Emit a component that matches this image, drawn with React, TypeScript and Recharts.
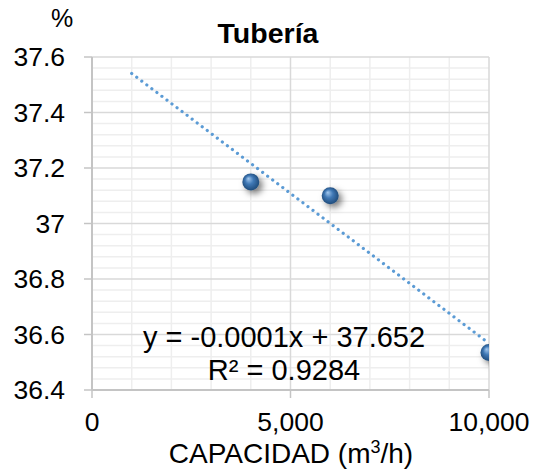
import { ReferenceLine, Scatter, ScatterChart, XAxis, YAxis } from "recharts";

const capacity = [4000, 6000, 10000];
const efficiency = [37.15, 37.1, 36.535];
const xTicks = [0, 5000, 10000];
const yTicks = [36.4, 36.6, 36.8, 37, 37.2, 37.4, 37.6];
const xMinorStep = 1000;
const yMinorStep = 0.04;
const trendStart = 1000;

const points = capacity.map((x, i) => ({ x, y: efficiency[i] }));

// least squares fit, same as the excel trendline
const n = points.length;
const mx = capacity.reduce((a, b) => a + b, 0) / n;
const my = efficiency.reduce((a, b) => a + b, 0) / n;
const sxy = points.reduce((s, p) => s + (p.x - mx) * (p.y - my), 0);
const sxx = points.reduce((s, p) => s + (p.x - mx) ** 2, 0);
const slope = sxy / sxx;
const intercept = my - slope * mx;
const trend = [trendStart, xTicks[xTicks.length - 1]].map((x) => ({ x, y: intercept + slope * x }));

const xMinor: number[] = [];
for (let v = xTicks[0] + xMinorStep; v < xTicks[xTicks.length - 1]; v += xMinorStep) {
  if (v % 5000 !== 0) xMinor.push(v);
}
const yMinor: number[] = [];
for (let i = 1; i < 30; i++) {
  if (i % 5 !== 0) yMinor.push(Math.round((yTicks[0] + i * yMinorStep) * 1000) / 1000);
}

const font = "'Liberation Sans', Arial, sans-serif";
const tickStyle = { fontSize: 26.5, fill: "#000", fontFamily: font };

const Ball = (props: any) => {
  const { cx, cy } = props;
  return <circle cx={cx} cy={cy} r={8.5} fill="url(#ball)" filter="url(#shadow)" />;
};

export default function App() {
  return (
    <div style={{ position: "relative", width: 537, height: 474, background: "#fff" }}>
      <style>{`body{margin:0}`}</style>
      <ScatterChart width={537} height={474} margin={{ top: 57, right: 48, left: 0, bottom: 0 }}>
        <defs>
          <radialGradient id="ball" cx="50%" cy="50%" r="55%" fx="35%" fy="30%">
            <stop offset="0%" stopColor="#a3c8ee" />
            <stop offset="45%" stopColor="#3f78b5" />
            <stop offset="100%" stopColor="#1c4673" />
          </radialGradient>
          <filter id="shadow" x="-60%" y="-60%" width="220%" height="220%">
            <feDropShadow dx="3.5" dy="3.5" stdDeviation="3" floodColor="#000" floodOpacity="0.5" />
          </filter>
        </defs>
        {yMinor.map((v) => (
          <ReferenceLine key={"ym" + v} y={v} stroke="#eeeeee" strokeWidth={1.5} />
        ))}
        {xMinor.map((v) => (
          <ReferenceLine key={"xm" + v} x={v} stroke="#eeeeee" strokeWidth={1.5} />
        ))}
        {yTicks.slice(1).map((v) => (
          <ReferenceLine key={"y" + v} y={v} stroke="#d9d9d9" strokeWidth={1.5} />
        ))}
        {xTicks.slice(1).map((v) => (
          <ReferenceLine key={"x" + v} x={v} stroke="#d9d9d9" strokeWidth={1.5} />
        ))}
        <XAxis
          type="number"
          dataKey="x"
          domain={[0, 10000]}
          ticks={xTicks}
          height={84}
          tickSize={8}
          tickMargin={14}
          tick={tickStyle}
          tickFormatter={(v) => Number(v).toLocaleString("en-US")}
          axisLine={{ stroke: "#c4c4c4", strokeWidth: 2 }}
          tickLine={{ stroke: "#c4c4c4", strokeWidth: 1.5 }}
          allowDataOverflow
        />
        <YAxis
          type="number"
          dataKey="y"
          domain={[36.4, 37.6]}
          ticks={yTicks}
          width={92}
          tickSize={8}
          tickMargin={19}
          tick={tickStyle}
          axisLine={{ stroke: "#c4c4c4", strokeWidth: 2 }}
          tickLine={{ stroke: "#c4c4c4", strokeWidth: 1.5 }}
          allowDataOverflow
        />
        <Scatter
          data={trend}
          line={{ stroke: "#5b9bd5", strokeWidth: 3.2, strokeDasharray: "0.01 6.3", strokeLinecap: "round" }}
          shape={() => <g />}
          isAnimationActive={false}
          legendType="none"
        />
        <Scatter data={points} shape={Ball} isAnimationActive={false} legendType="none" />
      </ScatterChart>
      <svg
        width={537}
        height={474}
        style={{ position: "absolute", left: 0, top: 0, pointerEvents: "none" }}
        fontFamily={font}
      >
        <text x={62} y={27} fontSize={25} textAnchor="middle">%</text>
        <text x={268} y={43} fontSize={28.5} fontWeight="bold" textAnchor="middle">Tubería</text>
        <text x={284} y={347} fontSize={29} textAnchor="middle">y = -0.0001x + 37.652</text>
        <text x={284} y={380} fontSize={29} textAnchor="middle">R² = 0.9284</text>
        <text x={291} y={463} fontSize={28} textAnchor="middle">
          CAPACIDAD (m<tspan fontSize={18} dy={-10}>3</tspan>
          <tspan dy={10}>/h)</tspan>
        </text>
      </svg>
    </div>
  );
}
